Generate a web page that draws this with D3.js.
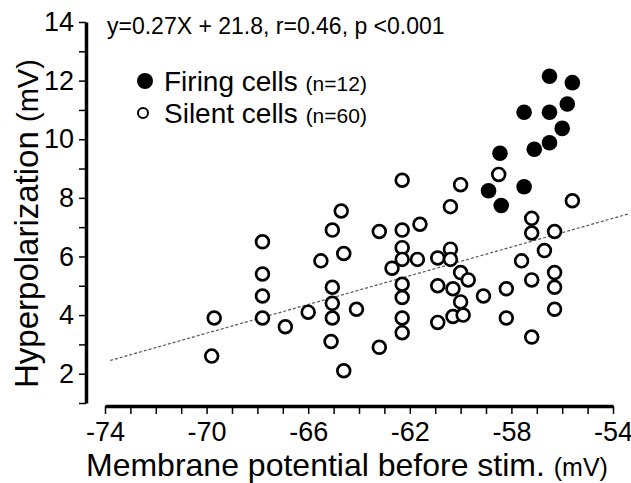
<!DOCTYPE html>
<html>
<head>
<meta charset="utf-8">
<script src="https://cdnjs.cloudflare.com/ajax/libs/d3/7.8.5/d3.min.js"></script>
<style>
    body { margin: 0; background: #fff; }
    text { font-family: Arial, "Liberation Sans", sans-serif; fill: #000; }
    .axis .domain { stroke: #000; stroke-width: 3.5px; }
    .axis .tick line { stroke: #000; stroke-width: 1.5px; }
</style>
</head>
<body>
<div id="chart"></div>
<script>
// firing cells (filled)
var firingX = [-56.5, -55.6, -57.5, -56.5, -55.8, -56.0, -56.5, -57.1, -58.45, -58.9, -57.5, -58.4];
var firingY = [12.15, 11.93, 10.92, 10.92, 11.2, 10.37, 9.88, 9.66, 9.52, 8.24, 8.38, 7.74];

// silent cells (open)
var silentX = [-58.5, -60.0, -60.4, -55.6, -57.2, -57.2, -56.3, -56.7, -57.6, -56.3,
    -56.3, -57.2, -58.2, -59.1, -58.2, -56.3, -57.2, -60.4, -62.3, -64.7,
    -65.05, -63.2, -62.3, -61.6, -62.3, -65.5, -64.6, -62.3, -61.7, -60.9,
    -60.4, -62.7, -60.0, -59.7, -62.3, -60.9, -60.3, -65.05, -65.05, -62.3,
    -60.0, -66.0, -64.1, -65.05, -62.3, -60.9, -60.3, -59.9, -62.3, -66.9,
    -65.1, -63.2, -64.6, -67.8, -67.8, -67.8, -67.8, -69.7, -69.8];
var silentY = [8.8, 8.45, 7.7, 7.9, 7.3, 6.8, 6.85, 6.2, 5.85, 5.45,
    4.95, 5.2, 4.9, 4.65, 3.9, 4.2, 3.25, 6.25, 8.6, 7.55,
    6.9, 6.85, 6.9, 7.1, 6.3, 5.85, 6.1, 5.9, 5.9, 5.95,
    5.9, 5.6, 5.45, 5.2, 5.05, 5.0, 4.9, 4.95, 4.4, 4.6,
    4.45, 4.1, 4.2, 3.9, 3.9, 3.75, 3.95, 4.0, 3.4, 3.6,
    3.1, 2.9, 2.1, 6.5, 5.4, 4.65, 3.9, 3.9, 2.6];

// regression line ends, as drawn
var fitX = [-73.8, -53.4];
var fitY = [2.45, 7.45];

var xTicks = d3.range(-74, -53, 1);
var xTickLabels = [-74, -70, -66, -62, -58, -54];
var yTicks = d3.range(1, 15, 1);
var yTickLabels = [2, 4, 6, 8, 10, 12, 14];

var equationText = "y=0.27X + 21.8,  r=0.46, p <0.001";
var legendNames = ["Firing cells", "Silent cells"];
var legendCounts = ["(n=12)", "(n=60)"];

ScatterPlot = function(_parentElement) {
    var vis = this;

    vis.parentElement = _parentElement;
    vis.svgWidth = 631;
    vis.svgHeight = 483;
    vis.margin = { top: 22, right: 18, bottom: 80, left: 105 };
    vis.width = 508;
    vis.height = 381;

    vis.initVis();
};

ScatterPlot.prototype.initVis = function() {
    var vis = this;

    vis.svg = d3.select("#" + vis.parentElement).append("svg")
        .attr("width", vis.svgWidth)
        .attr("height", vis.svgHeight)
        .append("g")
        .attr("transform", "translate(" + vis.margin.left + "," + vis.margin.top + ")");

    vis.x = d3.scaleLinear()
        .domain([-74, -54])
        .range([0, vis.width]);

    vis.y = d3.scaleLinear()
        .domain([1, 14])
        .range([vis.height, 0]);

    vis.drawAxes();
    vis.drawFit();
    vis.drawPoints();
    vis.drawText();
};

ScatterPlot.prototype.drawAxes = function() {
    var vis = this;

    var xAxis = d3.axisBottom(vis.x)
        .tickValues(xTicks)
        .tickSize(8)
        .tickSizeOuter(0)
        .tickPadding(8)
        .tickFormat(function(d) { return xTickLabels.indexOf(d) >= 0 ? d : ""; });

    vis.svg.append("g")
        .attr("class", "x-axis axis")
        .attr("transform", "translate(0," + (vis.height + 3) + ")")
        .call(xAxis)
        .selectAll("text")
        .attr("font-size", "27px");

    var yAxis = d3.axisLeft(vis.y)
        .tickValues(yTicks)
        .tickSize(7)
        .tickSizeOuter(0)
        .tickPadding(5)
        .tickFormat(function(d) { return yTickLabels.indexOf(d) >= 0 ? d : ""; });

    vis.svg.append("g")
        .attr("class", "y-axis axis")
        .attr("transform", "translate(-19,0)")
        .call(yAxis)
        .selectAll("text")
        .attr("font-size", "27px");

    vis.svg.selectAll(".axis text").attr("font-family", null).attr("fill", "#000");
};

ScatterPlot.prototype.drawFit = function() {
    var vis = this;

    var line = d3.line()
        .x(function(d) { return vis.x(d[0]); })
        .y(function(d) { return vis.y(d[1]); });

    vis.svg.append("path")
        .datum(d3.zip(fitX, fitY))
        .attr("d", line)
        .attr("fill", "none")
        .attr("stroke", "#555")
        .attr("stroke-width", 1.2)
        .attr("stroke-dasharray", "3,2");
};

ScatterPlot.prototype.drawPoints = function() {
    var vis = this;

    vis.svg.selectAll(".silent")
        .data(d3.zip(silentX, silentY))
        .enter()
        .append("circle")
        .attr("class", "silent")
        .attr("cx", function(d) { return vis.x(d[0]); })
        .attr("cy", function(d) { return vis.y(d[1]); })
        .attr("r", 6.4)
        .attr("fill", "#fff")
        .attr("stroke", "#000")
        .attr("stroke-width", 2.7);

    vis.svg.selectAll(".firing")
        .data(d3.zip(firingX, firingY))
        .enter()
        .append("circle")
        .attr("class", "firing")
        .attr("cx", function(d) { return vis.x(d[0]); })
        .attr("cy", function(d) { return vis.y(d[1]); })
        .attr("r", 7.8)
        .attr("fill", "#000");
};

ScatterPlot.prototype.drawText = function() {
    var vis = this;
    var root = d3.select("#" + vis.parentElement).select("svg");

    root.append("text")
        .attr("x", 107)
        .attr("y", 34)
        .attr("font-size", "23px")
        .text(equationText);

    // legend
    root.append("circle")
        .attr("cx", 145).attr("cy", 81).attr("r", 8)
        .attr("fill", "#000");
    root.append("circle")
        .attr("cx", 143).attr("cy", 113).attr("r", 5)
        .attr("fill", "#fff").attr("stroke", "#000").attr("stroke-width", 2);

    [91, 123].forEach(function(yy, i) {
        var t = root.append("text")
            .attr("x", 164)
            .attr("y", yy)
            .attr("font-size", "28px")
            .text(legendNames[i] + " ");
        t.append("tspan")
            .attr("font-size", "21px")
            .text(legendCounts[i]);
    });

    // x title
    var xt = root.append("text")
        .attr("x", 86)
        .attr("y", 476)
        .attr("font-size", "32px")
        .text("Membrane potential before stim. ");
    xt.append("tspan")
        .attr("font-size", "25px")
        .text("(mV)");

    // y title
    var yt = root.append("text")
        .attr("transform", "translate(38,388) rotate(-90)")
        .attr("font-size", "33px")
        .text("Hyperpolarization ");
    yt.append("tspan")
        .attr("font-size", "29px")
        .text("(mV)");
};

new ScatterPlot("chart");
</script>
</body>
</html>
